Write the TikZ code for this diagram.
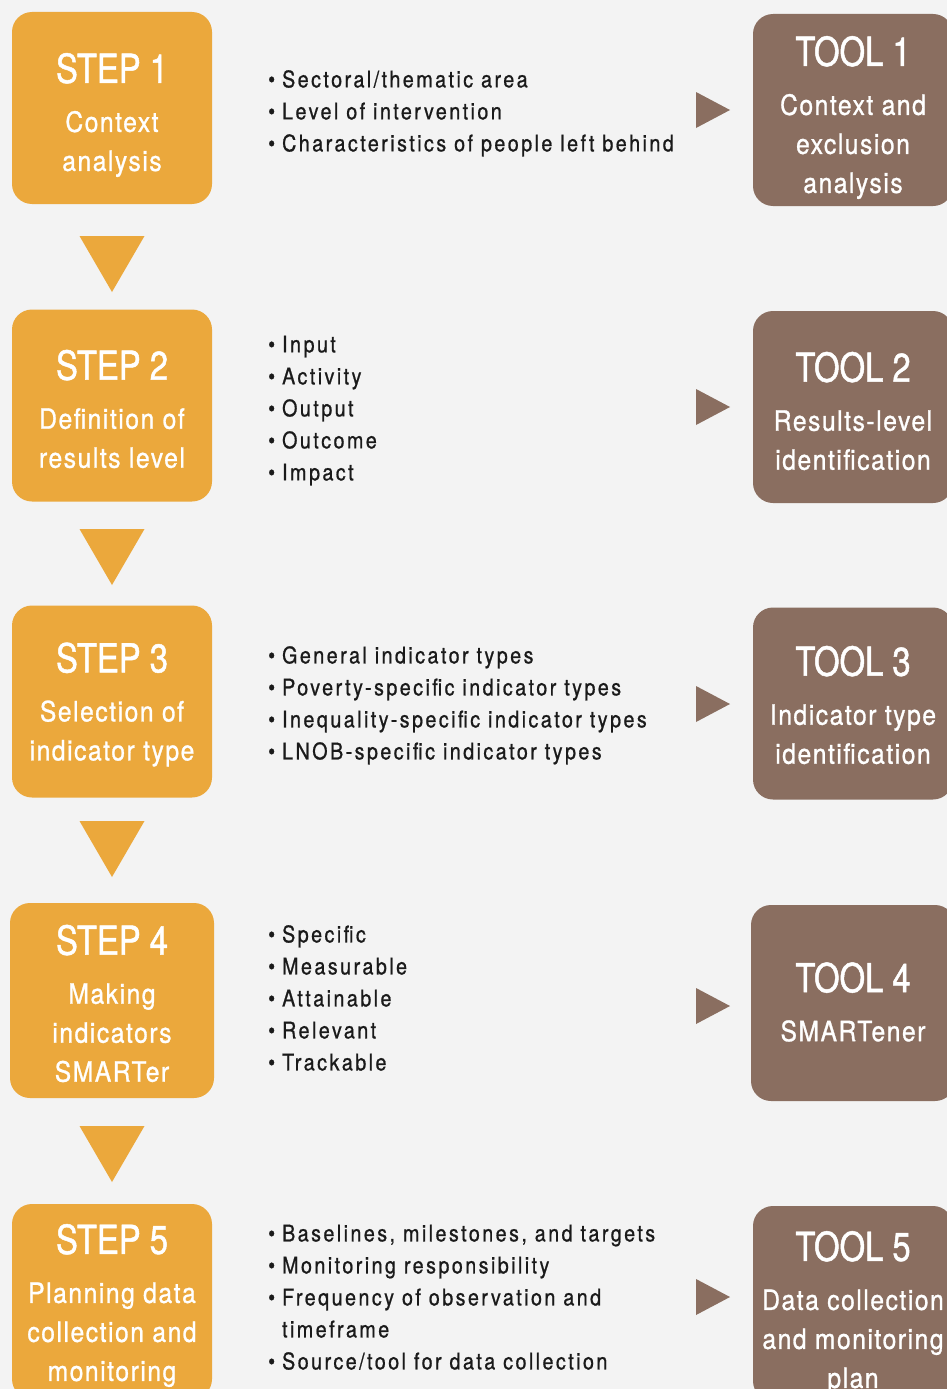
\documentclass[tikz,border=0pt]{standalone}
\usepackage{fontspec}
\setmainfont{TeX Gyre Heros}[FakeStretch=0.85]
\newfontfamily\titlef{TeX Gyre Heros}[FakeStretch=0.82, FakeBold=1.2]
\newfontfamily\subf{TeX Gyre Heros}[FakeStretch=0.88, LetterSpace=5.5, FakeBold=1]
\newfontfamily\bulf{TeX Gyre Heros}[FakeStretch=0.86, LetterSpace=10.5, FakeBold=0.8]
\usetikzlibrary{calc}
\definecolor{bgc}{HTML}{F3F3F3}
\definecolor{orc}{HTML}{EBA83C}
\definecolor{brc}{HTML}{8A6E60}
\definecolor{txc}{HTML}{1A1A1A}
\newcommand\ttl{\titlef\fontsize{40}{44}\selectfont}
\newcommand\sbt{\subf\fontsize{28}{39}\selectfont}
\newcommand\blist[1]{\bulf\fontsize{23}{32}\selectfont\begin{tabular}{@{}l@{\hspace{7pt}}l@{}}#1\end{tabular}}
\tikzset{
  box/.style={rounded corners=20pt, minimum width=200pt, minimum height=192pt, inner sep=0pt},
  stepbox/.style={box, fill=orc},
  toolbox/.style={box, fill=brc},
  boxtext/.style={text=white, align=center, inner sep=0pt, font=\sbt},
  listbox/.style={anchor=west, text=txc, inner sep=0pt},
}
\begin{document}
\begin{tikzpicture}[x=1pt,y=-1pt]
\fill[bgc] (0,0) rectangle (947,1389);
\useasboundingbox (0,0) rectangle (947,1389);

% steps
\node[stepbox] (s1) at (112,108) {};
\node[stepbox] (s2) at (112,405.5) {};
\node[stepbox] (s3) at (112,701.5) {};
\node[stepbox, minimum width=204pt, minimum height=195pt] (s4) at (112,1000.5) {};
\node[stepbox, minimum height=195pt] (s5) at (112,1301.5) {};
\node[boxtext] (s1x) at ($(s1)+(0,7)$) {\ttl STEP 1\\[10pt]\sbt Context\\\sbt analysis};
\node[boxtext] (s2x) at ($(s2)+(0,3.5)$) {\ttl STEP 2\\[10pt]\sbt Definition of\\\sbt results level};
\node[boxtext] (s3x) at ($(s3)+(0,3)$) {\ttl STEP 3\\[10pt]\sbt Selection of\\\sbt indicator type};
\node[boxtext] (s4x) at ($(s4)+(0,3)$) {\ttl STEP 4\\[10pt]\sbt Making\\\sbt indicators\\\sbt SMARTer};
\node[boxtext] (s5x) at ($(s5)+(0,4)$) {\ttl STEP 5\\[10pt]\sbt Planning data\\\sbt collection and\\\sbt monitoring};

% tools
\node[toolbox] (t1) at (853,110) {};
\node[toolbox] (t2) at (853,407) {};
\node[toolbox] (t3) at (853,703.5) {};
\node[toolbox, minimum width=204pt, minimum height=196pt] (t4) at (853,1003) {};
\node[toolbox, minimum height=195pt] (t5) at (853,1303.5) {};
\node[boxtext] (t1x) at ($(t1)+(0,7.5)$) {\ttl TOOL 1\\[10pt]\sbt Context and\\\sbt exclusion\\\sbt analysis};
\node[boxtext] (t2x) at ($(t2)+(0,4)$) {\ttl TOOL 2\\[10pt]\sbt Results-level\\\sbt identification};
\node[boxtext] (t3x) at ($(t3)+(0,1.5)$) {\ttl TOOL 3\\[10pt]\sbt Indicator type\\\sbt identification};
\node[boxtext] (t4x) at ($(t4)+(0,-1)$) {\ttl TOOL 4\\[10pt]\sbt SMARTener};
\node[boxtext] (t5x) at ($(t5)+(0,9)$) {\ttl TOOL 5\\[10pt]\sbt Data collection\\\sbt and monitoring\\\sbt plan};

% lists
\node[listbox] (l1) at (268,113) {\blist{\textbullet & Sectoral/thematic area\\ \textbullet & Level of intervention\\ \textbullet & Characteristics of people left behind}};
\node[listbox] (l2) at (268,410) {\blist{\textbullet & Input\\ \textbullet & Activity\\ \textbullet & Output\\ \textbullet & Outcome\\ \textbullet & Impact}};
\node[listbox] (l3) at (268,705) {\blist{\textbullet & General indicator types\\ \textbullet & Poverty-specific indicator types\\ \textbullet & Inequality-specific indicator types\\ \textbullet & LNOB-specific indicator types}};
\node[listbox] (l4) at (268,1000) {\blist{\textbullet & Specific\\ \textbullet & Measurable\\ \textbullet & Attainable\\ \textbullet & Relevant\\ \textbullet & Trackable}};
\node[listbox] (l5) at (268,1299) {\blist{\textbullet & Baselines, milestones, and targets\\ \textbullet & Monitoring responsibility\\ \textbullet & Frequency of observation and\\ & timeframe\\ \textbullet & Source/tool for data collection}};

% down triangles
\foreach \yc in {264,557,849,1154}{
  \fill[orc] (79.5,\yc-28) -- (144.5,\yc-28) -- (112,\yc+28) -- cycle;
}
% right triangles
\foreach \yc in {110,407,704,1006,1297}{
  \fill[brc] (696,\yc-18) -- (730,\yc) -- (696,\yc+18) -- cycle;
}
\end{tikzpicture}
\end{document}
